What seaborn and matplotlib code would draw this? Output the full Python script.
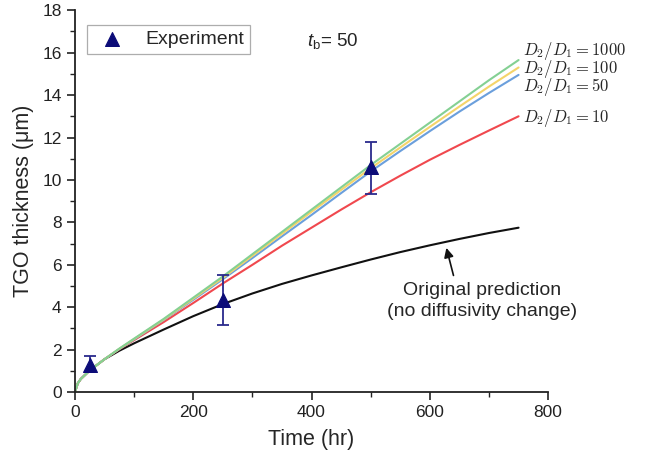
import numpy as np
import pandas as pd
import matplotlib
matplotlib.use("Agg")
import matplotlib.pyplot as plt
from matplotlib.ticker import MultipleLocator
import seaborn as sns

# Model time grid (hr)
time_hr = [0, 5, 10, 25, 50, 75, 100, 150, 200, 250, 300, 350, 400, 450, 500,
           550, 600, 650, 700, 750]

# TGO thickness (um) predicted for each diffusivity ratio, breakaway at t_b = 50
orig_pred = [0, 0.42, 0.62, 1.02, 1.55, 1.95, 2.3, 2.95, 3.58, 4.15, 4.65, 5.1,
             5.5, 5.88, 6.25, 6.6, 6.92, 7.22, 7.5, 7.75]
ratio_10 = [0, 0.42, 0.62, 1.02, 1.55, 2.02, 2.45, 3.3, 4.2, 5.12, 6.0, 6.9,
            7.75, 8.6, 9.42, 10.2, 10.95, 11.65, 12.33, 13.0]
ratio_50 = [0, 0.42, 0.62, 1.02, 1.55, 2.03, 2.48, 3.4, 4.35, 5.32, 6.32, 7.34,
            8.35, 9.38, 10.4, 11.36, 12.3, 13.22, 14.1, 14.95]
ratio_100 = [0, 0.42, 0.62, 1.02, 1.55, 2.04, 2.5, 3.42, 4.4, 5.38, 6.42, 7.46,
             8.5, 9.53, 10.55, 11.53, 12.5, 13.46, 14.4, 15.3]
ratio_1000 = [0, 0.42, 0.62, 1.02, 1.55, 2.05, 2.52, 3.45, 4.45, 5.45, 6.5, 7.55,
              8.6, 9.65, 10.7, 11.7, 12.7, 13.7, 14.7, 15.65]

# Measured thickness with error bars
exp_time = [25, 250, 500]
exp_thick = [1.3, 4.35, 10.6]
exp_err_low = [0.35, 1.2, 1.25]
exp_err_high = [0.4, 1.15, 1.2]

curve_labels = ["orig", "10", "50", "100", "1000"]
curve_colors = {"orig": "#111111", "10": "#f0484e", "50": "#6b9fdc",
                "100": "#f4d46a", "1000": "#84d093"}

sns.set_style("ticks")
plt.rcParams["font.family"] = ["Liberation Sans", "DejaVu Sans"]
plt.rcParams["mathtext.fontset"] = "custom"
plt.rcParams["mathtext.rm"] = "Liberation Sans"
plt.rcParams["mathtext.it"] = "Liberation Sans:italic"

frames = []
for key, vals in zip(curve_labels, [orig_pred, ratio_10, ratio_50, ratio_100, ratio_1000]):
    frames.append(pd.DataFrame({"time": time_hr, "thick": vals, "case": key}))
df = pd.concat(frames, ignore_index=True)

fig = plt.figure(figsize=(6.51, 4.63), dpi=100)
ax = fig.add_axes([0.115, 0.153, 0.727, 0.825])

# Original prediction first so the breakaway curves sit on top of the shared start
sns.lineplot(data=df[df.case == "orig"], x="time", y="thick", color="#111111",
             linewidth=1.5, ax=ax, legend=False, sort=False, estimator=None)
sns.lineplot(data=df[df.case != "orig"], x="time", y="thick", hue="case",
             palette=curve_colors, hue_order=["10", "50", "100", "1000"],
             linewidth=1.5, ax=ax, legend=False, sort=False, estimator=None)

ax.errorbar(exp_time, exp_thick, yerr=[exp_err_low, exp_err_high], fmt="none",
            ecolor="#2a2a8c", elinewidth=1.3, capsize=4, capthick=1.3, zorder=4)
sns.scatterplot(x=exp_time, y=exp_thick, marker="^", s=100, color="#0c0c78",
                edgecolor="#0c0c78", ax=ax, zorder=5, label="Experiment")

ax.set_xlim(0, 800)
ax.set_ylim(0, 18)
ax.xaxis.set_major_locator(MultipleLocator(200))
ax.xaxis.set_minor_locator(MultipleLocator(100))
ax.yaxis.set_major_locator(MultipleLocator(2))
ax.yaxis.set_minor_locator(MultipleLocator(1))
ax.tick_params(which="major", direction="out", length=6, width=1.2,
               labelsize=12.5, colors="#222222")
ax.tick_params(which="minor", direction="out", length=3.5, width=1.0, colors="#222222")
for s in ["top", "right"]:
    ax.spines[s].set_visible(False)
for s in ["left", "bottom"]:
    ax.spines[s].set_linewidth(1.3)
    ax.spines[s].set_color("#222222")

ax.set_xlabel("Time (hr)", fontsize=15.5, labelpad=6)
ax.set_ylabel("TGO thickness (μm)", fontsize=15.5, labelpad=6)

leg = ax.legend(loc="upper left", bbox_to_anchor=(0.025, 0.962), borderaxespad=0,
                fontsize=14, frameon=True, fancybox=False, edgecolor="#999999",
                handletextpad=0.7, borderpad=0.3, markerscale=1.0)
leg.get_frame().set_linewidth(0.9)

ax.text(392, 16.55, r"$t_{\mathrm{b}}$= 50", fontsize=13.5, va="center", ha="left")

# Ratio labels stacked at the end of each breakaway curve
ratio_text = {"1000": 16.08, "100": 15.24, "50": 14.36, "10": 12.92}
for key, yv in ratio_text.items():
    ax.text(757, yv, r"$D_2/D_1 = %s$" % key, fontsize=12, va="center",
            ha="left", math_fontfamily="cm", clip_on=False)

ax.text(689, 4.3, "Original prediction\n(no diffusivity change)", fontsize=14,
        ha="center", va="center", linespacing=1.25)
ax.annotate("", xy=(628, 6.8), xytext=(640, 5.5),
            arrowprops=dict(arrowstyle="-|>", color="#111111", lw=1.2,
                            shrinkA=0, shrinkB=0, mutation_scale=14))

fig.savefig("out.png", dpi=100)
